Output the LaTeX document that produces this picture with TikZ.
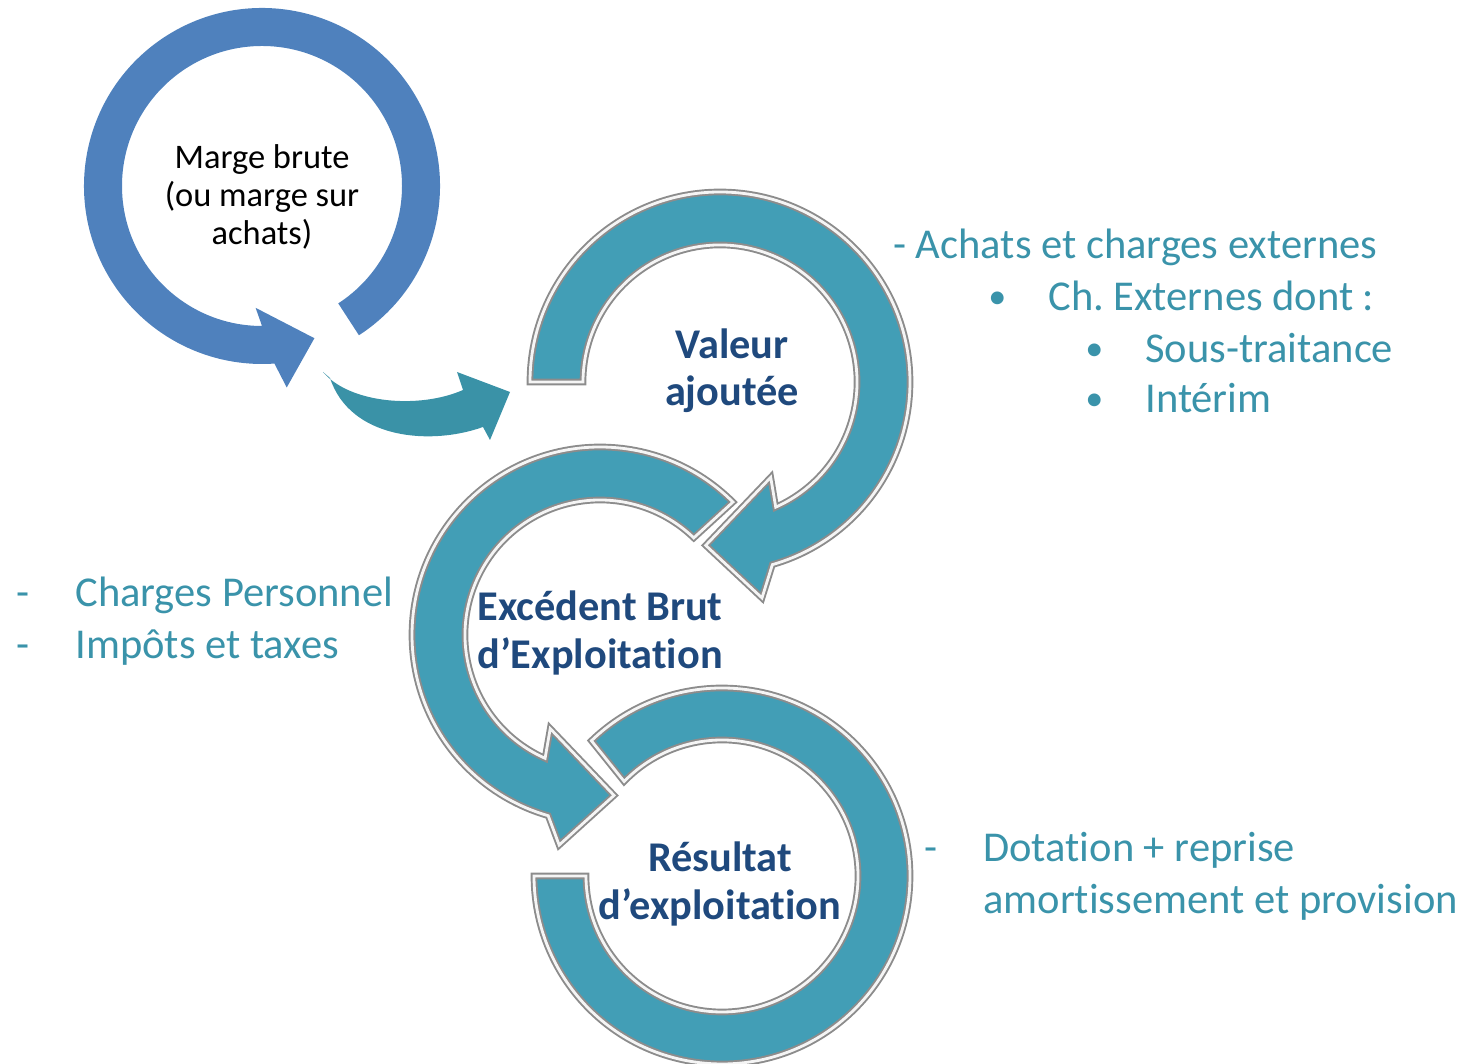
\documentclass[tikz,border=0pt]{standalone}
\usepackage{fontspec}
\setmainfont{Carlito}[Ligatures={TeX,NoCommon}]
\usepackage{tikz}
\usetikzlibrary{calc}
\frenchspacing
\definecolor{azulmarge}{HTML}{4F81BD}
\definecolor{turquesa}{HTML}{429EB6}
\definecolor{flecha}{HTML}{3A92A7}
\definecolor{azultexto}{HTML}{1F497D}
\definecolor{textoturq}{HTML}{3A93AA}
\definecolor{bisel}{HTML}{8C8C8C}
\tikzset{
  anillo/.style={fill=turquesa, draw=bisel, double=white!92!gray, double distance=1.6pt, line width=1.1pt, line join=miter},
  titulo/.style={font=\fontsize{24.1}{27}\selectfont\bfseries, text=azultexto, align=center, inner sep=0pt},
  lista/.style={font=\fontsize{24.2}{29.5}\selectfont, text=textoturq, anchor=base west, inner sep=0pt},
}

\begin{document}
\begin{tikzpicture}[x=0.02cm, y=0.02cm]
    \useasboundingbox (0,0) rectangle (1464,1064);
    % Centros de los anillos
    \coordinate (cm) at (262,878);
    \coordinate (cv) at (720,682);
    \coordinate (ce) at (600,429);
    \coordinate (cr) at (722,188);
    % Marge brute
    \fill[azulmarge] ($(cm)+(-57:178)$) arc[start angle=-57, end angle=274, radius=178]
        -- ($(cm)+(277:203)$) -- ($(cm)+(289:161)$) -- ($(cm)+(267:122)$)
        -- ($(cm)+(270:140)$) arc[start angle=270, end angle=-57, radius=140] -- cycle;
    \node[font=\fontsize{19.6}{21.6}\selectfont, align=center, inner sep=0pt] (marge) at (262,867)
        {Marge brute\\(ou marge sur\\achats)};
    % Flecha curva
    \fill[flecha] (323,692) .. controls (350,660) and (420,655) .. (463,674)
        -- (457,692) -- (510,672) -- (490,624) -- (483,637)
        .. controls (430,618) and (350,625) .. (330,686) -- cycle;
    % Valeur ajoutee
    \filldraw[anillo] ($(cv)+(180:190)$) arc[start angle=180, end angle=-74, radius=190]
        -- ($(cv)+(-79:220)$) -- ($(cv)+(-95:164)$) -- ($(cv)+(-62:108)$)
        -- ($(cv)+(-66:137)$) arc[start angle=-66, end angle=180, radius=137] -- cycle;
    \node[titulo] (valeur) at (732,693) {Valeur\\ajoutée};
    % Excedent brut
    \filldraw[anillo] ($(ce)+(45:188)$) arc[start angle=45, end angle=254, radius=188]
        -- ($(ce)+(259:214)$) -- ($(ce)+(275:161)$) -- ($(ce)+(242:106)$)
        -- ($(ce)+(246:135)$) arc[start angle=246, end angle=46, radius=135] -- cycle;
    \node[titulo] (ebe) at (600,431) {Excédent Brut\\d’Exploitation};
    % Resultat
    \filldraw[anillo] ($(cr)+(134:188)$) arc[start angle=134, end angle=-180, radius=188]
        -- ($(cr)+(180:136)$) arc[start angle=180, end angle=496, radius=136] -- cycle;
    \node[titulo] (resultat) at (720,180) {Résultat\\d’exploitation};
    % Textos de los lados
    \node[lista] (achats) at (893,805) {- Achats et charges externes};
    \node[lista, scale=0.85] (pchext) at (988,755) {•};
    \node[lista] (chext) at (1048,753) {Ch. Externes dont :};
    \node[lista, scale=0.85] (psous) at (1085,703) {•};
    \node[lista] (sous) at (1145,701) {Sous-traitance};
    \node[lista, scale=0.85] (pinterim) at (1085,653) {•};
    \node[lista] (interim) at (1145,651) {Intérim};
    \node[lista] (gchpers) at (16,457) {-};
    \node[lista] (chpers) at (75,457) {Charges Personnel};
    \node[lista] (gimpots) at (16,405) {-};
    \node[lista] (impots) at (75,405) {Impôts et taxes};
    \node[lista] (gdot) at (924,202) {-};
    \node[lista] (dotation) at (983,202) {Dotation + reprise};
    \node[lista] (amort) at (983,150) {amortissement et provision};
\end{tikzpicture}
\end{document}
